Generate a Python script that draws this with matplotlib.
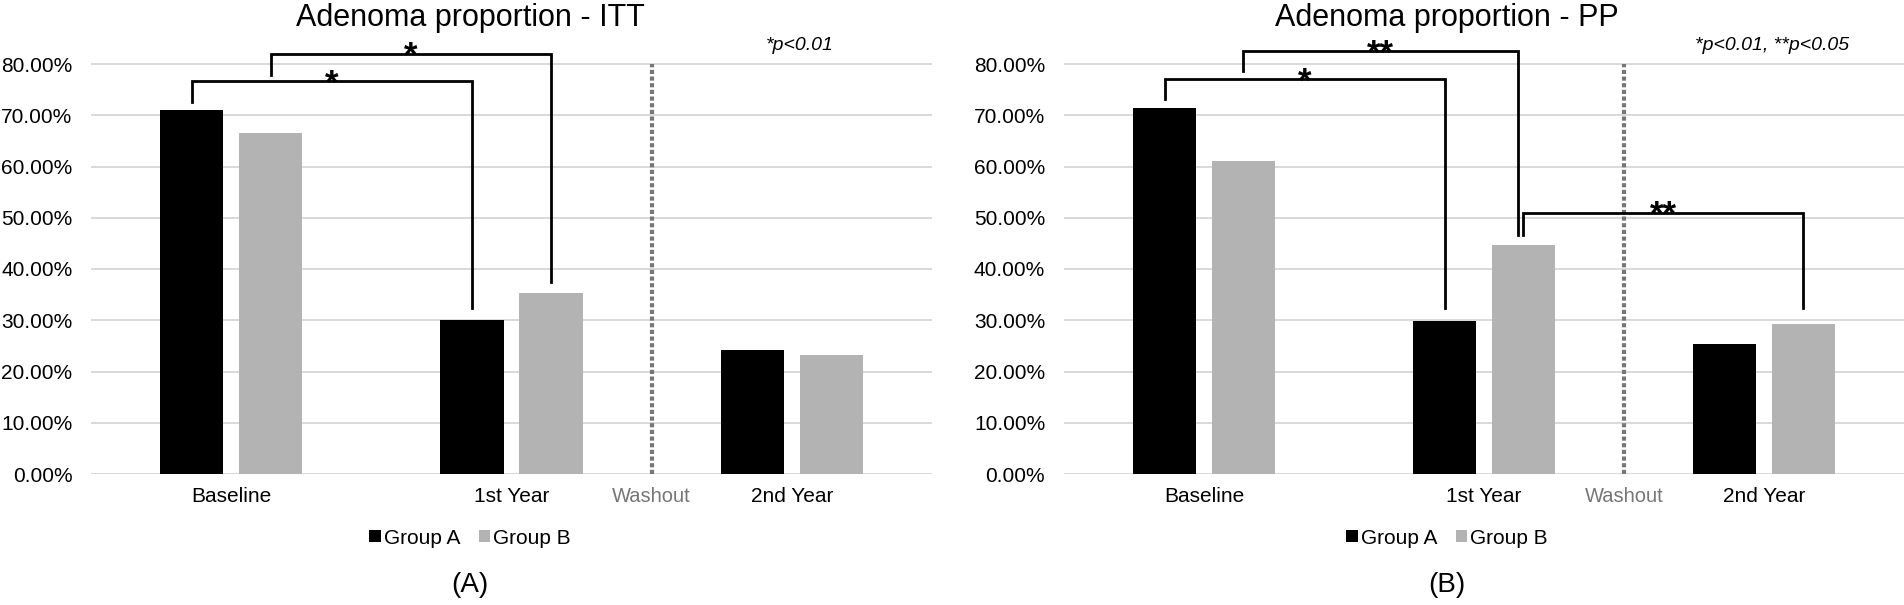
import matplotlib
matplotlib.use('Agg')
import matplotlib.pyplot as plt
from matplotlib.patches import Patch
from matplotlib.ticker import FixedLocator, FuncFormatter
import numpy as np

plt.rcParams['font.family'] = ['Liberation Sans', 'DejaVu Sans']

# ---------------- data ----------------
categories = ['Baseline', '1st Year', '2nd Year']
groups = ['Group A', 'Group B']
itt_group_a = [0.710, 0.301, 0.241]
itt_group_b = [0.666, 0.353, 0.233]
pp_group_a = [0.714, 0.299, 0.253]
pp_group_b = [0.610, 0.446, 0.293]
y_ticks = [0.0, 0.1, 0.2, 0.3, 0.4, 0.5, 0.6, 0.7, 0.8]
titles = ['Adenoma proportion - ITT', 'Adenoma proportion - PP']
notes = ['*p<0.01', '*p<0.01, **p<0.05']
panel_labels = ['(A)', '(B)']
washout_label = 'Washout'
# brackets: (cat_left, grp_left, cat_right, grp_right, level, left_leg_end, right_leg_end, stars)
itt_brackets = [(0, 0, 1, 0, 0.767, 0.726, 0.324, '*'),
                (0, 1, 1, 1, 0.820, 0.779, 0.374, '*')]
pp_brackets = [(0, 0, 1, 0, 0.771, 0.731, 0.324, '*'),
               (0, 1, 1, 1, 0.825, 0.786, 0.466, '**'),
               (1, 1, 2, 1, 0.510, 0.466, 0.324, '**')]

# ---------------- styling ----------------
W, H = 1904, 605
DPI = 100
COL_A = '#000000'
COL_B = '#b3b3b3'
GRID = '#d9d9d9'
WASH = '#767676'
BAR_W = 0.225
OFF = 0.141

fig = plt.figure(figsize=(W / DPI, H / DPI), dpi=DPI)


def fx(px):
    return px / W


def fy(py):
    return 1 - py / H


panels = [
    dict(a=itt_group_a, b=itt_group_b, br=itt_brackets, left=91, right=932, cx=470),
    dict(a=pp_group_a, b=pp_group_b, br=pp_brackets, left=1064, right=1904, cx=1447),
]

y0_px = 474
unit_px = 51.25 * 10  # pixels per 1.0
ytop = 0.85
for i, p in enumerate(panels):
    ax_h = ytop * unit_px
    ax = fig.add_axes([fx(p['left']), fy(y0_px), fx(p['right'] - p['left']), ax_h / H])
    x = np.arange(len(categories))
    ax.bar(x - OFF, p['a'], BAR_W, color=COL_A, zorder=3)
    ax.bar(x + OFF, p['b'], BAR_W, color=COL_B, zorder=3)
    ax.set_xlim(-0.5, len(categories) - 0.5)
    ax.set_ylim(0, ytop)
    ax.yaxis.set_major_locator(FixedLocator(y_ticks))
    ax.yaxis.set_major_formatter(FuncFormatter(lambda v, pos: f'{v * 100:.2f}%'))
    ax.grid(axis='y', color=GRID, linewidth=1.4, zorder=0)
    ax.set_axisbelow(True)
    for s in ax.spines.values():
        s.set_visible(False)
    ax.set_xticks(x)
    ax.set_xticklabels(categories)
    ax.tick_params(axis='x', length=0, pad=9, labelsize=15, labelcolor='#000000')
    ax.tick_params(axis='y', length=0, pad=13.5, labelsize=15, labelcolor='#000000')

    # washout divider
    ax.plot([1.5, 1.5], [0, y_ticks[-1]], color=WASH, linewidth=3.0,
            linestyle=(0, (1.0, 0.6)), solid_capstyle='butt', dash_capstyle='butt', zorder=4)
    ax.annotate(washout_label, xy=(1.5, 0), xycoords=('data', 'axes fraction'),
                xytext=(0, -16), textcoords='offset points', ha='center', va='center',
                fontsize=14.5, color=WASH)

    # significance brackets
    lefts = [(c1, g1) for (c1, g1, c2, g2, *_r) in p['br']]
    for (c1, g1, c2, g2, lvl, lb, rb, stars) in p['br']:
        xl = c1 + (OFF if g1 else -OFF)
        xr = c2 + (OFF if g2 else -OFF)
        if (c2, g2) in lefts:
            xr -= 0.02
        ax.plot([xl, xl, xr, xr], [lb, lvl, lvl, rb], color='black', linewidth=2.0,
                solid_joinstyle='miter', zorder=5, clip_on=False)
        ax.annotate(stars, xy=((xl + xr) / 2, lvl), xytext=(0, -9), textcoords='offset points',
                    ha='center', va='baseline', fontsize=25, fontweight='bold', color='black',
                    annotation_clip=False)

    # p-value note
    fig.text(fx(p['left'] + 0.843 * (p['right'] - p['left'])), fy(45), notes[i],
             ha='center', va='center', fontsize=14, style='italic')

    # title
    fig.text(fx(p['cx']), fy(18), titles[i], ha='center', va='center', fontsize=22)

    # legend
    handles = [Patch(facecolor=COL_A, edgecolor='none'), Patch(facecolor=COL_B, edgecolor='none')]
    fig.legend(handles, groups, loc='center', bbox_to_anchor=(fx(p['cx']), fy(538)), ncol=2,
               frameon=False, fontsize=15, handlelength=0.55, handleheight=0.55,
               handletextpad=0.15, columnspacing=0.9, borderpad=0)

    # panel label
    fig.text(fx(p['cx']), fy(585), panel_labels[i], ha='center', va='center', fontsize=20)

fig.savefig('out.png', dpi=DPI)
